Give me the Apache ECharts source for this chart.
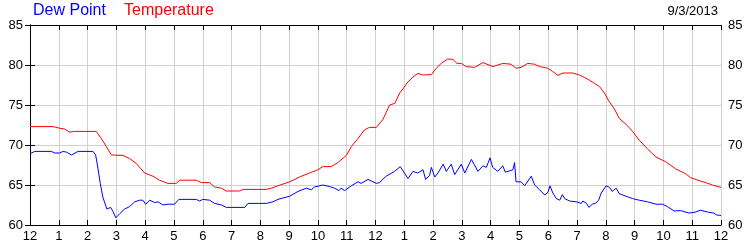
<!DOCTYPE html>
<html><head><meta charset="utf-8">
<script src="https://cdn.jsdelivr.net/npm/echarts@6/dist/echarts.min.js"></script>
<style>html,body{margin:0;padding:0;background:#fff}#c{width:750px;height:250px}</style>
</head><body><div id="c"></div>
<script>
const yTicks = [60, 65, 70, 75, 80, 85];
const hourTicks = [0,1,2,3,4,5,6,7,8,9,10,11,12,13,14,15,16,17,18,19,20,21,22,23,24];
const seriesNames = ['Dew Point', 'Temperature'];
const dateLabel = '9/3/2013';

const temperature = [
[0,72.3],[0.8,72.3],[1.03,72.1],[1.2,72.0],[1.38,71.6],[1.55,71.7],[2.3,71.7],[2.48,70.8],[2.65,69.8],[2.83,68.75],
[3.23,68.7],[3.46,68.3],[3.69,67.7],[3.98,66.5],[4.27,66.1],[4.5,65.6],[4.79,65.2],[5.08,65.2],[5.2,65.6],[5.78,65.6],
[5.95,65.3],[6.24,65.3],[6.41,64.75],[6.65,64.6],[6.82,64.25],[7.28,64.25],[7.4,64.45],[8.21,64.45],[8.38,64.6],[8.61,64.9],
[9.02,65.4],[9.36,66.0],[9.71,66.5],[10.0,66.9],[10.17,67.3],[10.46,67.3],[10.69,67.8],[10.99,68.7],[11.16,69.8],[11.39,70.8],
[11.62,71.9],[11.79,72.2],[12.03,72.2],[12.26,73.2],[12.49,75.0],[12.67,75.2],[12.84,76.5],[12.95,77.0],[13.13,77.9],[13.3,78.5],
[13.47,78.95],[13.65,78.75],[13.94,78.8],[14.11,79.6],[14.28,80.2],[14.51,80.75],[14.69,80.7],[14.83,80.2],[14.98,80.2],[15.15,79.8],
[15.44,79.7],[15.73,80.3],[16.08,79.8],[16.42,80.2],[16.71,80.1],[16.88,79.6],[17.06,79.7],[17.29,80.2],[17.52,80.1],[17.7,79.8],
[17.98,79.6],[18.15,79.2],[18.33,78.7],[18.51,79.0],[18.85,79.0],[19.08,78.75],[19.26,78.45],[19.43,78.1],[19.61,77.7],[19.78,77.3],
[19.95,76.5],[20.12,75.4],[20.3,74.5],[20.47,73.3],[20.7,72.6],[20.93,71.7],[21.16,70.6],[21.45,69.5],[21.74,68.5],[22.08,67.9],
[22.43,67.0],[22.78,66.4],[22.95,65.9],[23.2,65.6],[23.47,65.3],[23.7,65.0],[24,64.7]
];

const dewPoint = [
[0,68.9],[0.16,69.2],[0.74,69.2],[0.86,69.0],[1.03,69.0],[1.15,69.2],[1.27,69.1],[1.44,68.75],[1.67,69.2],[2.19,69.2],
[2.28,68.75],[2.36,67.1],[2.44,65.2],[2.53,63.5],[2.67,62.0],[2.8,62.2],[2.88,61.7],[2.98,60.9],[3.11,61.4],[3.29,62.0],
[3.46,62.3],[3.64,62.9],[3.81,63.1],[3.92,63.1],[4.02,62.6],[4.16,63.1],[4.33,62.8],[4.45,62.9],[4.62,62.5],[4.79,62.6],
[5.02,62.6],[5.17,63.2],[5.78,63.2],[5.89,63.0],[6.0,63.2],[6.24,63.1],[6.41,62.7],[6.65,62.5],[6.82,62.2],[7.46,62.2],
[7.57,62.7],[8.21,62.7],[8.44,62.9],[8.61,63.2],[9.02,63.6],[9.31,64.2],[9.6,64.6],[9.77,64.4],[9.88,64.75],[10.17,65.0],
[10.41,64.8],[10.58,64.6],[10.73,64.3],[10.8,64.6],[10.93,64.3],[11.16,64.9],[11.39,65.4],[11.5,65.2],[11.74,65.7],[12.03,65.2],
[12.14,65.3],[12.37,66.1],[12.66,66.7],[12.86,67.3],[13.13,65.8],[13.3,66.7],[13.47,66.5],[13.65,66.9],[13.74,65.7],[13.88,66.2],
[13.94,67.2],[14.06,66.0],[14.17,66.5],[14.35,67.6],[14.46,66.7],[14.63,67.6],[14.75,66.3],[14.98,67.6],[15.1,66.5],[15.33,68.2],
[15.56,66.7],[15.73,67.4],[15.85,67.2],[15.98,68.4],[16.07,67.2],[16.25,66.7],[16.42,67.4],[16.51,66.6],[16.77,66.9],[16.83,67.8],
[16.88,65.4],[17.06,65.4],[17.18,64.9],[17.41,66.1],[17.53,65.0],[17.7,64.4],[17.88,63.75],[17.99,64.1],[18.06,64.9],[18.16,64.0],
[18.28,63.3],[18.4,63.1],[18.49,63.8],[18.57,63.3],[18.74,63.0],[18.97,62.9],[19.15,62.7],[19.2,63.0],[19.33,62.7],[19.41,62.2],
[19.53,62.6],[19.64,62.7],[19.75,63.1],[19.84,64.0],[20.01,64.9],[20.13,64.7],[20.22,64.2],[20.36,64.6],[20.47,63.9],[20.7,63.6],
[20.93,63.3],[21.16,63.1],[21.45,62.9],[21.74,62.6],[21.97,62.6],[22.14,62.3],[22.37,61.75],[22.6,61.8],[22.88,61.5],[23.1,61.6],
[23.28,61.85],[23.56,61.6],[23.74,61.5],[23.85,61.25],[24,61.2]
];

const FONT = '"Liberation Sans", Arial, sans-serif';
const hourLabel = v => { const h = Math.round(v) % 12; return String(h === 0 ? 12 : h); };

const chart = echarts.init(document.getElementById('c'), null, {renderer: 'canvas'});
const yMin = yTicks[0], yMax = yTicks[yTicks.length - 1];
const xMin = hourTicks[0], xMax = hourTicks[hourTicks.length - 1];
const axisLine = {show: true, lineStyle: {color: '#000', width: 1}};
const tick = {show: true, inside: true, length: 5, lineStyle: {color: '#000'}};
const split = {show: true, lineStyle: {color: '#d0d0d0', width: 1}};
const lbl = {color: '#000', fontFamily: FONT, fontSize: 13};

chart.setOption({
  animation: false,
  backgroundColor: '#fff',
  grid: {left: 30, right: 29, top: 25, bottom: 25, containLabel: false},
  xAxis: [
    {type: 'value', min: xMin, max: xMax, interval: 1, position: 'bottom',
     axisLine, axisTick: tick, splitLine: split,
     axisLabel: Object.assign({}, lbl, {margin: 5, formatter: hourLabel})},
    {type: 'value', min: xMin, max: xMax, interval: 1, position: 'top',
     axisLine, axisTick: tick, splitLine: {show: false}, axisLabel: {show: false}}
  ],
  yAxis: [
    {type: 'value', min: yMin, max: yMax, interval: 5, position: 'left',
     axisLine, axisTick: tick, splitLine: split,
     axisLabel: Object.assign({}, lbl, {margin: 7})},
    {type: 'value', min: yMin, max: yMax, interval: 5, position: 'right',
     axisLine, axisTick: tick, splitLine: {show: false},
     axisLabel: Object.assign({}, lbl, {margin: 7})}
  ],
  series: [
    {name: seriesNames[1], type: 'line', data: temperature, showSymbol: false, symbol: 'none',
     lineStyle: {color: '#ff0000', width: 1}, itemStyle: {color: '#ff0000'}, z: 3},
    {name: seriesNames[0], type: 'line', data: dewPoint, showSymbol: false, symbol: 'none',
     lineStyle: {color: '#0000ff', width: 1}, itemStyle: {color: '#0000ff'}, z: 4}
  ],
  graphic: [
    {type: 'text', left: 33, top: 3, style: {text: seriesNames[0], fill: '#0000ff', font: '16px ' + FONT}},
    {type: 'text', left: 124, top: 3, style: {text: seriesNames[1], fill: '#ff0000', font: '16px ' + FONT}},
    {type: 'text', right: 32, top: 5, style: {text: dateLabel, fill: '#000', font: '13px ' + FONT}}
  ]
});
</script></body></html>
